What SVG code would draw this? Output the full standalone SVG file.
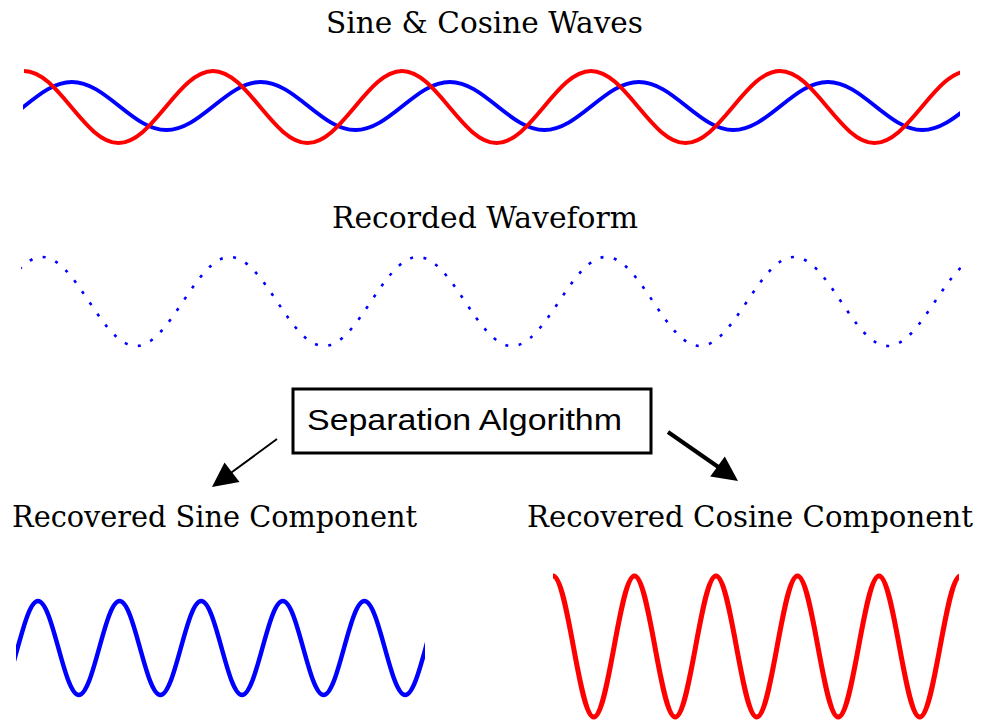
<svg xmlns="http://www.w3.org/2000/svg" width="982" height="725" viewBox="0 0 982 725">
<style>
.serif{font-family:"DejaVu Serif","Liberation Serif",serif;font-size:29px;fill:#000}
.sans{font-family:"Liberation Sans",Arial,sans-serif;font-size:30px;fill:#000}
.wave{fill:none;stroke-linejoin:round}
.blue{stroke:#0000ff}
.red{stroke:#ff0000}
</style>
<defs>
<clipPath id="cTop"><rect x="23" y="40" width="937" height="120"/></clipPath>
<clipPath id="cRec"><rect x="21" y="240" width="940" height="120"/></clipPath>
<clipPath id="cSin"><rect x="16" y="580" width="409" height="130"/></clipPath>
<clipPath id="cCos"><rect x="551" y="560" width="408" height="165"/></clipPath>
</defs>
<rect width="982" height="725" fill="#fff"/>

<g id="title-waves"><text class="serif" x="326" y="33" textLength="317" lengthAdjust="spacingAndGlyphs">Sine &amp; Cosine Waves</text></g>

<g id="sine-cosine-waves" clip-path="url(#cTop)">
<path id="top-sine" class="wave blue" stroke-width="4" d="M-22.65,130 C-5.55,130 9.19,118.3 24.6,106 S54.75,82 71.85,82 S103.69,93.7 119.1,106 S149.25,130 166.35,130 S198.19,118.3 213.6,106 S243.75,82 260.85,82 S292.69,93.7 308.1,106 S338.25,130 355.35,130 S387.19,118.3 402.6,106 S432.75,82 449.85,82 S481.69,93.7 497.1,106 S527.25,130 544.35,130 S576.19,118.3 591.6,106 S621.75,82 638.85,82 S670.69,93.7 686.1,106 S716.25,130 733.35,130 S765.19,118.3 780.6,106 S810.75,82 827.85,82 S859.69,93.7 875.1,106 S905.25,130 922.35,130 S954.19,118.3 969.6,106"/>
<path id="top-cosine" class="wave red" stroke-width="4" d="M24,71 C41.1,71 55.84,88.56 71.25,107 S101.4,143 118.5,143 S150.34,125.44 165.75,107 S195.9,71 213,71 S244.84,88.56 260.25,107 S290.4,143 307.5,143 S339.34,125.44 354.75,107 S384.9,71 402,71 S433.84,88.56 449.25,107 S479.4,143 496.5,143 S528.34,125.44 543.75,107 S573.9,71 591,71 S622.84,88.56 638.25,107 S668.4,143 685.5,143 S717.34,125.44 732.75,107 S762.9,71 780,71 S811.84,88.56 827.25,107 S857.4,143 874.5,143 S906.34,125.44 921.75,107 S951.9,71 969,71"/>
</g>

<g id="title-recorded"><text class="serif" x="332" y="228" textLength="306" lengthAdjust="spacingAndGlyphs">Recorded Waveform</text></g>

<g id="recorded-waveform" clip-path="url(#cRec)">
<path class="wave blue" stroke-width="2.6" stroke-dasharray="3 10.5" d="M-5,301.5 C10.33,278.7 24.99,257 42,257 S73.67,278.7 89,301.5 S118.99,346 136,346 S167.67,324.3 183,301.5 S212.99,257 230,257 S261.67,278.7 277,301.5 S306.99,346 324,346 S355.67,324.3 371,301.5 S400.99,257 418,257 S449.67,278.7 465,301.5 S494.99,346 512,346 S543.67,324.3 559,301.5 S588.99,257 606,257 S637.67,278.7 653,301.5 S682.99,346 700,346 S731.67,324.3 747,301.5 S776.99,257 794,257 S825.67,278.7 841,301.5 S870.99,346 888,346 S919.67,324.3 935,301.5 S964.99,257 982,257"/>
</g>

<g id="separation-algorithm">
<rect x="293" y="389" width="358" height="64" fill="#fff" stroke="#000" stroke-width="3"/>
<text class="sans" x="307" y="430" textLength="315" lengthAdjust="spacingAndGlyphs">Separation Algorithm</text>
</g>

<g id="connectors">
<line x1="277" y1="439" x2="230" y2="473.5" stroke="#000" stroke-width="2"/>
<polygon points="212,487 239.5,482 224.5,462.5" fill="#000"/>
<line x1="668" y1="432" x2="719" y2="467.5" stroke="#000" stroke-width="4"/>
<polygon points="738,481 710.2,476.6 724.8,456.6" fill="#000"/>
</g>

<g id="label-sine"><text class="serif" x="12" y="527" textLength="405" lengthAdjust="spacingAndGlyphs">Recovered Sine Component</text></g>
<g id="label-cosine"><text class="serif" x="527" y="527" textLength="446" lengthAdjust="spacingAndGlyphs">Recovered Cosine Component</text></g>

<g id="recovered-sine" clip-path="url(#cSin)">
<path class="wave blue" stroke-width="4.5" transform="translate(-1.5,0)" d="M-1.3,695 C6.08,695 12.45,672.08 19.1,648 S32.12,601 39.5,601 S53.25,623.92 59.9,648 S72.92,695 80.3,695 S94.05,672.08 100.7,648 S113.72,601 121.1,601 S134.85,623.92 141.5,648 S154.52,695 161.9,695 S175.65,672.08 182.3,648 S195.32,601 202.7,601 S216.45,623.92 223.1,648 S236.12,695 243.5,695 S257.25,672.08 263.9,648 S276.92,601 284.3,601 S298.05,623.92 304.7,648 S317.72,695 325.1,695 S338.85,672.08 345.5,648 S358.52,601 365.9,601 S379.65,623.92 386.3,648 S399.32,695 406.7,695 S420.45,672.08 427.1,648 S440.85,601 448.2,601"/>
</g>

<g id="recovered-cosine" clip-path="url(#cCos)">
<path class="wave red" stroke-width="5" d="M553,576 C560.37,576 566.73,610.38 573.375,646.5 S586.38,717 593.75,717 S607.49,682.62 614.125,646.5 S627.13,576 634.5,576 S648.24,610.38 654.875,646.5 S667.88,717 675.25,717 S688.99,682.62 695.625,646.5 S708.63,576 716,576 S729.74,610.38 736.375,646.5 S749.38,717 756.75,717 S770.49,682.62 777.125,646.5 S790.13,576 797.5,576 S811.24,610.38 817.875,646.5 S830.88,717 838.25,717 S851.99,682.62 858.625,646.5 S871.63,576 879,576 S892.74,610.38 899.375,646.5 S912.38,717 919.75,717 S933.49,682.62 940.125,646.5 S953.13,576 960.5,576"/>
</g>
</svg>
